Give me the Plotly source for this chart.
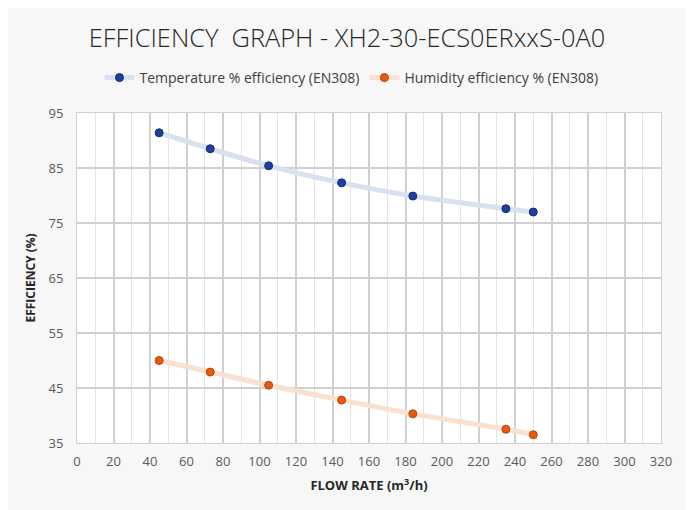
import plotly.graph_objects as go

flow = [45, 73, 105, 145, 184, 235, 250]
temp_eff = [91.4, 88.5, 85.4, 82.3, 79.9, 77.6, 77.0]
hum_eff = [50.0, 47.9, 45.5, 42.8, 40.3, 37.5, 36.5]

x_ticks = list(range(0, 321, 20))
y_ticks = [35, 45, 55, 65, 75, 85, 95]

fig = go.Figure()
fig.add_trace(go.Scatter(
    x=flow, y=temp_eff, mode="lines+markers", name="Temperature % efficiency (EN308)",
    line=dict(color="#d9e1f0", width=5, shape="spline", smoothing=0.6),
    marker=dict(color="#1f3f9e", size=8, line=dict(color="#132a70", width=1)),
))
fig.add_trace(go.Scatter(
    x=flow, y=hum_eff, mode="lines+markers", name="Humidity efficiency % (EN308)",
    line=dict(color="#f9e0cf", width=5, shape="spline", smoothing=0.6),
    marker=dict(color="#e45a10", size=8, line=dict(color="#b84408", width=1)),
))

fig.update_layout(
    width=694, height=510,
    margin=dict(l=69, r=41, t=105, b=75),
    paper_bgcolor="#f7f7f7", plot_bgcolor="#ffffff",
    font=dict(family="Open Sans", color="#595959"),
    title=dict(text="EFFICIENCY  GRAPH - XH2-30-ECS0ERxxS-0A0", x=339/694, xanchor="center",
               y=1 - 30 / 510, yanchor="middle",
               font=dict(family="Open Sans", size=25.4, color="#262626", weight=300)),
    legend=dict(orientation="h", x=0.47, xanchor="center", y=1.106, yanchor="middle",
                font=dict(size=14, color="#404040"), bgcolor="rgba(0,0,0,0)",
                itemwidth=30, tracegroupgap=0),
    showlegend=True,
    shapes=[dict(type="line", xref="paper", yref="paper", x0=1.0497, x1=1.0497, y0=-0.3, y1=1.35,
                 line=dict(color="#dcdcdc", width=1.5))],
)
fig.update_xaxes(
    range=[0, 320], tickvals=x_ticks, ticktext=[str(v) for v in x_ticks],
    showgrid=True, gridcolor="#d0d0d0", gridwidth=1.5,
    minor=dict(dtick=10, showgrid=True, gridcolor="#e4e4e4", gridwidth=1),
    zeroline=False, showline=True, linecolor="#d0d0d0", mirror=True,
    tickfont=dict(size=13, color="#595959"), ticks="", ticklabelstandoff=6,
    title=dict(text="<b>FLOW RATE (m<sup>3</sup>/h)</b>", font=dict(size=13, color="#262626"), standoff=12),
)
fig.update_yaxes(
    range=[35, 95], tickvals=y_ticks, ticktext=[str(v) for v in y_ticks],
    showgrid=True, gridcolor="#d0d0d0", gridwidth=1.5,
    zeroline=False, showline=True, linecolor="#d0d0d0", mirror=True,
    tickfont=dict(size=13, color="#595959"), ticks="", ticklabelstandoff=10,
    title=dict(text="<b>EFFICIENCY (%)</b>", font=dict(size=12, color="#262626"), standoff=10),
)

fig.write_html("out.html")
